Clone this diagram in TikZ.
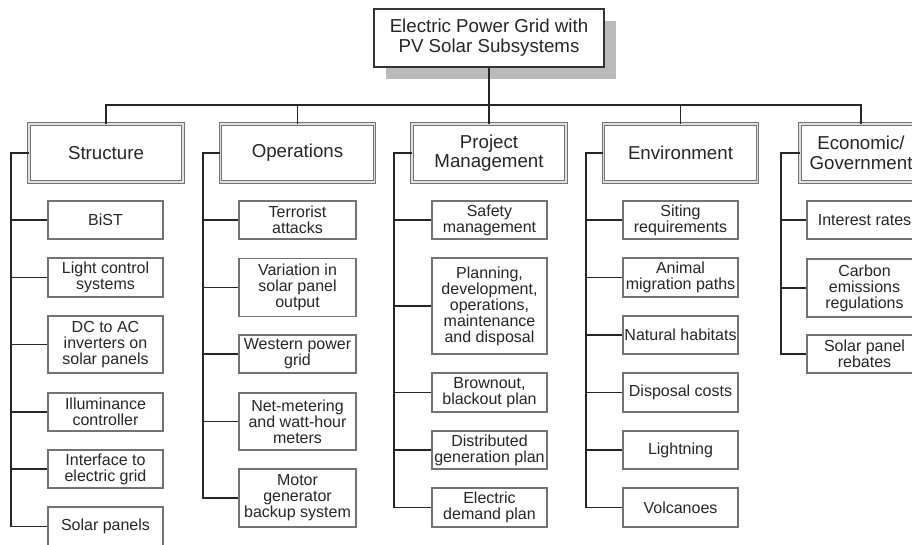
\documentclass[tikz,border=0pt]{standalone}
\usepackage{fontspec}
\setmainfont{Liberation Sans}
\usetikzlibrary{shadows,calc}

\tikzset{
  every node/.style={text=black!85, align=center, inner sep=1pt},
  rootbox/.style={draw=black!80, line width=2.6pt, fill=white,
    minimum width=230pt, minimum height=58pt,
    font=\fontsize{18.7}{20}\selectfont,
    drop shadow={shadow xshift=12pt, shadow yshift=-12pt, fill=black!27, opacity=1}},
  groupbox/.style={draw=black!55, line width=1pt, double=black!12, double distance=1.2pt,
    fill=white, minimum width=154pt, minimum height=58pt,
    font=\fontsize{18.7}{19.5}\selectfont},
  leafbox/.style={draw=black!55, line width=1.2pt, fill=white,
    minimum width=115pt, font=\fontsize{16}{16}\selectfont},
  link/.style={draw=black!85, line width=1.3pt},
}

\begin{document}
\begin{tikzpicture}[x=1pt, y=-1pt]
\useasboundingbox (0,0) rectangle (912,544);

% root
\node[rootbox] (root) at (489,38) {Electric Power Grid with\\PV Solar Subsystems};

% second level
\node[groupbox] (S) at (106,153) {Structure};
\node[groupbox] (O) at (297.5,153) {Operations};
\node[groupbox] (P) at (489,153) {Project\\Management};
\node[groupbox] (E) at (680.5,153) {Environment};
\node[groupbox, minimum width=122pt] (G) at (861,153) {Economic/\\Government};

% structure items
\node[leafbox, minimum height=38pt] (S1) at (105.5,220) {BiST};
\node[leafbox, minimum height=39pt] (S2) at (105.5,277.5) {Light control\\systems};
\node[leafbox, minimum height=57pt] (S3) at (105.5,344.5) {DC to AC\\inverters on\\solar panels};
\node[leafbox, minimum height=38pt] (S4) at (105.5,412) {Illuminance\\controller};
\node[leafbox, minimum height=38pt] (S5) at (105.5,469) {Interface to\\electric grid};
\node[leafbox, minimum height=39pt] (S6) at (105.5,526.5) {Solar panels};

% operations items
\node[leafbox, minimum width=117pt, minimum height=38pt] (O1) at (297.5,220) {Terrorist\\attacks};
\node[leafbox, minimum width=117pt, minimum height=58pt] (O2) at (297.5,287.5) {Variation in\\solar panel\\output};
\node[leafbox, minimum width=117pt, minimum height=38pt] (O3) at (297.5,354) {Western power\\grid};
\node[leafbox, minimum width=117pt, minimum height=57pt] (O4) at (297.5,421.5) {Net-metering\\and watt-hour\\meters};
\node[leafbox, minimum width=117pt, minimum height=58pt] (O5) at (297.5,498) {Motor\\generator\\backup system};

% project management items
\node[leafbox, minimum height=38pt] (P1) at (489.5,220) {Safety\\management};
\node[leafbox, minimum height=96pt] (P2) at (489.5,306) {Planning,\\development,\\operations,\\maintenance\\and disposal};
\node[leafbox, minimum height=39pt] (P3) at (489.5,392.5) {Brownout,\\blackout plan};
\node[leafbox, minimum height=38pt] (P4) at (489.5,450) {Distributed\\generation plan};
\node[leafbox, minimum height=39pt] (P5) at (489.5,507.5) {Electric\\demand plan};

% environment items
\node[leafbox, minimum height=38pt] (E1) at (680.5,220) {Siting\\requirements};
\node[leafbox, minimum height=39pt] (E2) at (680.5,277.5) {Animal\\migration paths};
\node[leafbox, minimum height=38pt] (E3) at (680.5,335) {Natural habitats};
\node[leafbox, minimum height=39pt] (E4) at (680.5,392.5) {Disposal costs};
\node[leafbox, minimum height=38pt] (E5) at (680.5,450) {Lightning};
\node[leafbox, minimum height=39pt] (E6) at (680.5,507.5) {Volcanoes};

% economic items
\node[leafbox, minimum height=38pt] (G1) at (864.5,220) {Interest rates};
\node[leafbox, minimum height=58pt] (G2) at (864.5,288) {Carbon\\emissions\\regulations};
\node[leafbox, minimum height=38pt] (G3) at (864.5,354) {Solar panel\\rebates};

% bus from root to the groups
\coordinate (bus) at (489,105);
\draw[link] (root.south) -- (bus);
\draw[link] (S.north) -- (S.north |- bus) -- (G.north |- bus) -- (G.north);
\draw[link] (O.north) -- (O.north |- bus);
\draw[link] (P.north) -- (P.north |- bus);
\draw[link] (E.north) -- (E.north |- bus);

% spines
\coordinate (Ssp) at (11,153);
\coordinate (Osp) at (203,153);
\coordinate (Psp) at (394,153);
\coordinate (Esp) at (586,153);
\coordinate (Gsp) at (781,153);

\foreach \k in {1,...,6} \draw[link] (S.west) -- (Ssp) |- (S\k.west);
\foreach \k in {1,...,5} \draw[link] (O.west) -- (Osp) |- (O\k.west);
\foreach \k in {1,...,5} \draw[link] (P.west) -- (Psp) |- (P\k.west);
\foreach \k in {1,...,6} \draw[link] (E.west) -- (Esp) |- (E\k.west);
\foreach \k in {1,...,3} \draw[link] (G.west) -- (Gsp) |- (G\k.west);
\end{tikzpicture}
\end{document}
